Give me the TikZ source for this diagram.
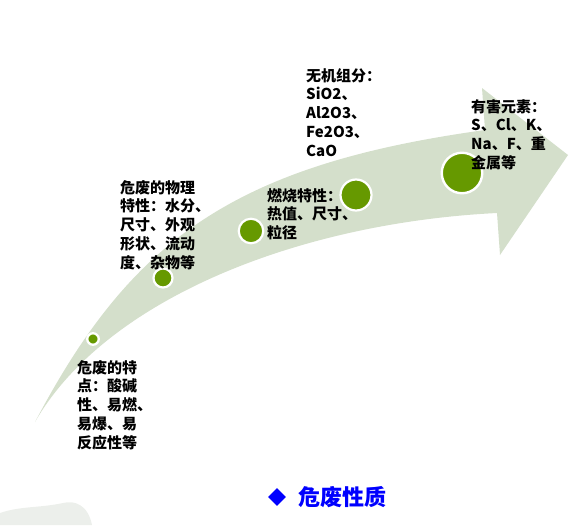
\documentclass[tikz,border=0pt]{standalone}
\usepackage{fontspec}
\setmainfont{Noto Sans CJK SC}
\usetikzlibrary{shapes.geometric}
\definecolor{band}{RGB}{212,223,203}
\definecolor{leaf}{RGB}{102,153,0}
\definecolor{mist}{RGB}{236,239,235}
\begin{document}
\begin{tikzpicture}[x=1pt, y=-1pt,
		dot/.style={circle, fill=leaf, draw=white, line width=2.2pt, inner sep=0pt},
		note/.style={anchor=base west, align=left, inner sep=0pt, font=\bfseries\fontsize{15}{18.8}\selectfont}]
			\useasboundingbox (0, 0) rectangle (583, 525);
			\fill[mist] (0, 525) -- (0, 513) .. controls (20, 506) and (40, 508) .. (63, 503) .. controls (75, 500) and (88, 505) .. (92, 525) -- cycle;

			\fill[band] (35, 422) .. controls (130, 242) and (231, 165) .. (485, 130) -- (482, 88) -- (568, 155) -- (500, 255) -- (497, 213) .. controls (297, 223) and (105, 300) .. (35, 422) -- cycle;

			\node[dot, minimum size=11.5pt, line width=2.3pt] (c1) at (93, 339) {};
			\node[dot, minimum size=19pt] (c2) at (163, 278) {};
			\node[dot, minimum size=24.5pt] (c3) at (251, 231) {};
			\node[dot, minimum size=31pt] (c4) at (356, 195) {};
			\node[dot, minimum size=40.5pt, line width=2.4pt] (c5) at (462, 173) {};

			\node[note] (t1) at (77, 448.2) {危废的特\\点：酸碱\\性、易燃、\\易爆、易\\反应性等};
			\node[note] (t2) at (120, 268.2) {危废的物理\\特性：水分、\\尺寸、外观\\形状、流动\\度、杂物等};
			\node[note] (t3) at (267, 238.6) {燃烧特性：\\热值、尺寸、\\粒径};
			\node[note] (t4) at (306, 156.2) {无机组分：\\SiO2、\\Al2O3、\\Fe2O3、\\CaO};
			\node[note] (t5) at (471, 168.4) {有害元素：\\S、Cl、K、\\Na、F、重\\金属等};

			\node[diamond, fill=blue, inner sep=0pt, minimum size=18pt] (mark) at (277, 497) {};
			\node[anchor=west, inner sep=0pt, text=blue, font=\bfseries\fontsize{22}{26}\selectfont] (title) at (298, 497) {危废性质};
		\end{tikzpicture}
\end{document}
